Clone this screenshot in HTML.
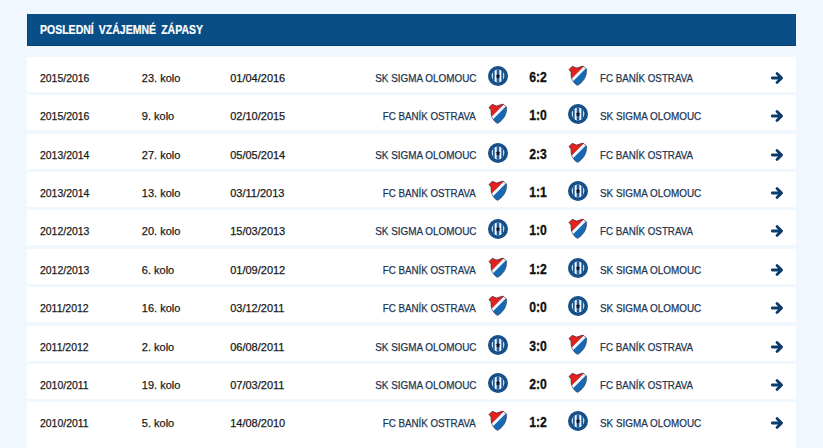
<!DOCTYPE html><html><head><meta charset="utf-8"><title>Poslední vzájemné zápasy</title><style>
html,body{margin:0;padding:0}
body{width:823px;height:448px;overflow:hidden;background:#f0f7fe;font-family:"Liberation Sans",sans-serif;position:relative}
.hd{position:absolute;left:27px;top:14px;width:769px;height:32px;background:#0a4e87;box-sizing:border-box;border-bottom:1px solid #083e6c;border-left:1px solid #0a4275}
.ht{word-spacing:2.5px;-webkit-text-stroke:0.2px #fff;position:absolute;left:11.7px;top:9px;font-size:12px;line-height:14px;font-weight:bold;color:#fff;white-space:nowrap;display:inline-block;transform:scaleX(.876);transform-origin:0 50%}
.row{position:absolute;left:27px;width:769px;background:#fff}
.t{position:absolute;top:15px;-webkit-text-stroke:0.25px currentColor;font-size:11px;line-height:13px;color:#1a1a1a;white-space:nowrap;display:inline-block}
.c1{left:12.8px;transform:scaleX(.95);transform-origin:0 50%}
.c2{left:114.8px;transform:scaleX(1.0);transform-origin:0 50%}
.c3{left:203.2px;transform:scaleX(1);transform-origin:0 50%}
.tm{color:#1d3653}
.hn{right:320px;transform-origin:100% 50%}
.an{left:573.2px;transform-origin:0 50%}
.nS{transform:scaleX(.90)}
.nB{transform:scaleX(.888)}
.sc{position:absolute;left:491px;width:40px;text-align:center;top:11.5px;font-size:14px;line-height:16px;transform:scaleX(.87);-webkit-text-stroke:0.3px #111;font-weight:bold;color:#111;white-space:nowrap}
.lg{position:absolute;top:8px;width:22px;height:22px}
.l1{left:460px}
.l2{left:540px}
.ar{position:absolute;left:743px;top:14px;width:14px;height:14px}

</style></head><body>
<svg width="0" height="0" style="position:absolute">
<defs>
<clipPath id="cpS"><circle cx="11" cy="11" r="6.4"/></clipPath>
<clipPath id="cpB"><path d="M2 4.6 L5.3 1.3 L9.4 3 L16 1 L19.6 4 C20 9 18.5 15.5 10.5 20.6 C5 17 3.6 12 4 7 Z"/></clipPath>
<g id="lgS">
<circle cx="11" cy="11" r="10" fill="#114a82"/>
<circle cx="11" cy="11" r="8.4" fill="none" stroke="#2f66a0" stroke-width="1" stroke-dasharray="1 1"/>
<g clip-path="url(#cpS)">
<rect x="3" y="3" width="16" height="16" fill="#c4dcf2"/>
<rect x="6.0" y="3" width="10" height="16" fill="#1d5c99"/>
<rect x="7.7" y="3" width="2.0" height="16" fill="#f2f8fd"/>
<rect x="12.3" y="3" width="2.0" height="16" fill="#f2f8fd"/>
</g>
<path d="M11 8.6 l0.75 1.65 1.75 0.17 -1.33 1.17 0.42 1.75 -1.59 -0.92 -1.59 0.92 0.42 -1.75 -1.33 -1.17 1.75 -0.17z" fill="#0d0d12"/>
</g>
<g id="lgB">
<g clip-path="url(#cpB)">
<rect x="0" y="0" width="22" height="22" fill="#1769b5"/>
<polygon points="0,0 19.57,-1.29 2.09,16.36 0,18" fill="#e3211d"/>
<polygon points="19.57,-1.29 21.56,0.68 4.08,18.33 2.09,16.36" fill="#f6f9fc"/>
</g>
<path d="M2 4.6 L5.3 1.3 L9.4 3 L16 1 L19.6 4 C20 9 18.5 15.5 10.5 20.6 C5 17 3.6 12 4 7 Z" fill="none" stroke="#2a2230" stroke-opacity=".7" stroke-width=".7" stroke-linejoin="round"/>
</g>
<g id="arr">
<path d="M2.3 7 H10.6 M7 2.4 L11.6 7 L7 11.6" fill="none" stroke="#0c3c69" stroke-width="2.8" stroke-linecap="round" stroke-linejoin="round"/>
</g>
</defs>
</svg>

<div class="hd"><span class="ht">POSLEDNÍ VZÁJEMNÉ ZÁPASY</span></div>
<div class="row" style="top:57.0px;height:35.0px">
<span class="t c1">2015/2016</span><span class="t c2">23. kolo</span><span class="t c3">01/04/2016</span>
<span class="t tm hn nS">SK SIGMA OLOMOUC</span>
<svg class="lg l1" viewBox="0 0 22 22"><use href="#lgS"/></svg>
<span class="sc">6:2</span>
<svg class="lg l2" viewBox="0 0 22 22"><use href="#lgB"/></svg>
<span class="t tm an nB">FC BANÍK OSTRAVA</span>
<svg class="ar" viewBox="0 0 14 14"><use href="#arr"/></svg>
</div>
<div class="row" style="top:95.0px;height:35.0px">
<span class="t c1">2015/2016</span><span class="t c2">9. kolo</span><span class="t c3">02/10/2015</span>
<span class="t tm hn nB">FC BANÍK OSTRAVA</span>
<svg class="lg l1" viewBox="0 0 22 22"><use href="#lgB"/></svg>
<span class="sc">1:0</span>
<svg class="lg l2" viewBox="0 0 22 22"><use href="#lgS"/></svg>
<span class="t tm an nS">SK SIGMA OLOMOUC</span>
<svg class="ar" viewBox="0 0 14 14"><use href="#arr"/></svg>
</div>
<div class="row" style="top:134.0px;height:35.0px">
<span class="t c1">2013/2014</span><span class="t c2">27. kolo</span><span class="t c3">05/05/2014</span>
<span class="t tm hn nS">SK SIGMA OLOMOUC</span>
<svg class="lg l1" viewBox="0 0 22 22"><use href="#lgS"/></svg>
<span class="sc">2:3</span>
<svg class="lg l2" viewBox="0 0 22 22"><use href="#lgB"/></svg>
<span class="t tm an nB">FC BANÍK OSTRAVA</span>
<svg class="ar" viewBox="0 0 14 14"><use href="#arr"/></svg>
</div>
<div class="row" style="top:172.0px;height:35.0px">
<span class="t c1">2013/2014</span><span class="t c2">13. kolo</span><span class="t c3">03/11/2013</span>
<span class="t tm hn nB">FC BANÍK OSTRAVA</span>
<svg class="lg l1" viewBox="0 0 22 22"><use href="#lgB"/></svg>
<span class="sc">1:1</span>
<svg class="lg l2" viewBox="0 0 22 22"><use href="#lgS"/></svg>
<span class="t tm an nS">SK SIGMA OLOMOUC</span>
<svg class="ar" viewBox="0 0 14 14"><use href="#arr"/></svg>
</div>
<div class="row" style="top:210.0px;height:35.0px">
<span class="t c1">2012/2013</span><span class="t c2">20. kolo</span><span class="t c3">15/03/2013</span>
<span class="t tm hn nS">SK SIGMA OLOMOUC</span>
<svg class="lg l1" viewBox="0 0 22 22"><use href="#lgS"/></svg>
<span class="sc">1:0</span>
<svg class="lg l2" viewBox="0 0 22 22"><use href="#lgB"/></svg>
<span class="t tm an nB">FC BANÍK OSTRAVA</span>
<svg class="ar" viewBox="0 0 14 14"><use href="#arr"/></svg>
</div>
<div class="row" style="top:249.0px;height:35.0px">
<span class="t c1">2012/2013</span><span class="t c2">6. kolo</span><span class="t c3">01/09/2012</span>
<span class="t tm hn nB">FC BANÍK OSTRAVA</span>
<svg class="lg l1" viewBox="0 0 22 22"><use href="#lgB"/></svg>
<span class="sc">1:2</span>
<svg class="lg l2" viewBox="0 0 22 22"><use href="#lgS"/></svg>
<span class="t tm an nS">SK SIGMA OLOMOUC</span>
<svg class="ar" viewBox="0 0 14 14"><use href="#arr"/></svg>
</div>
<div class="row" style="top:287.0px;height:35.0px">
<span class="t c1">2011/2012</span><span class="t c2">16. kolo</span><span class="t c3">03/12/2011</span>
<span class="t tm hn nB">FC BANÍK OSTRAVA</span>
<svg class="lg l1" viewBox="0 0 22 22"><use href="#lgB"/></svg>
<span class="sc">0:0</span>
<svg class="lg l2" viewBox="0 0 22 22"><use href="#lgS"/></svg>
<span class="t tm an nS">SK SIGMA OLOMOUC</span>
<svg class="ar" viewBox="0 0 14 14"><use href="#arr"/></svg>
</div>
<div class="row" style="top:326.0px;height:35.0px">
<span class="t c1">2011/2012</span><span class="t c2">2. kolo</span><span class="t c3">06/08/2011</span>
<span class="t tm hn nS">SK SIGMA OLOMOUC</span>
<svg class="lg l1" viewBox="0 0 22 22"><use href="#lgS"/></svg>
<span class="sc">3:0</span>
<svg class="lg l2" viewBox="0 0 22 22"><use href="#lgB"/></svg>
<span class="t tm an nB">FC BANÍK OSTRAVA</span>
<svg class="ar" viewBox="0 0 14 14"><use href="#arr"/></svg>
</div>
<div class="row" style="top:364.0px;height:35.0px">
<span class="t c1">2010/2011</span><span class="t c2">19. kolo</span><span class="t c3">07/03/2011</span>
<span class="t tm hn nS">SK SIGMA OLOMOUC</span>
<svg class="lg l1" viewBox="0 0 22 22"><use href="#lgS"/></svg>
<span class="sc">2:0</span>
<svg class="lg l2" viewBox="0 0 22 22"><use href="#lgB"/></svg>
<span class="t tm an nB">FC BANÍK OSTRAVA</span>
<svg class="ar" viewBox="0 0 14 14"><use href="#arr"/></svg>
</div>
<div class="row" style="top:402.0px;height:60.0px">
<span class="t c1">2010/2011</span><span class="t c2">5. kolo</span><span class="t c3">14/08/2010</span>
<span class="t tm hn nB">FC BANÍK OSTRAVA</span>
<svg class="lg l1" viewBox="0 0 22 22"><use href="#lgB"/></svg>
<span class="sc">1:2</span>
<svg class="lg l2" viewBox="0 0 22 22"><use href="#lgS"/></svg>
<span class="t tm an nS">SK SIGMA OLOMOUC</span>
<svg class="ar" viewBox="0 0 14 14"><use href="#arr"/></svg>
</div>
</body></html>
